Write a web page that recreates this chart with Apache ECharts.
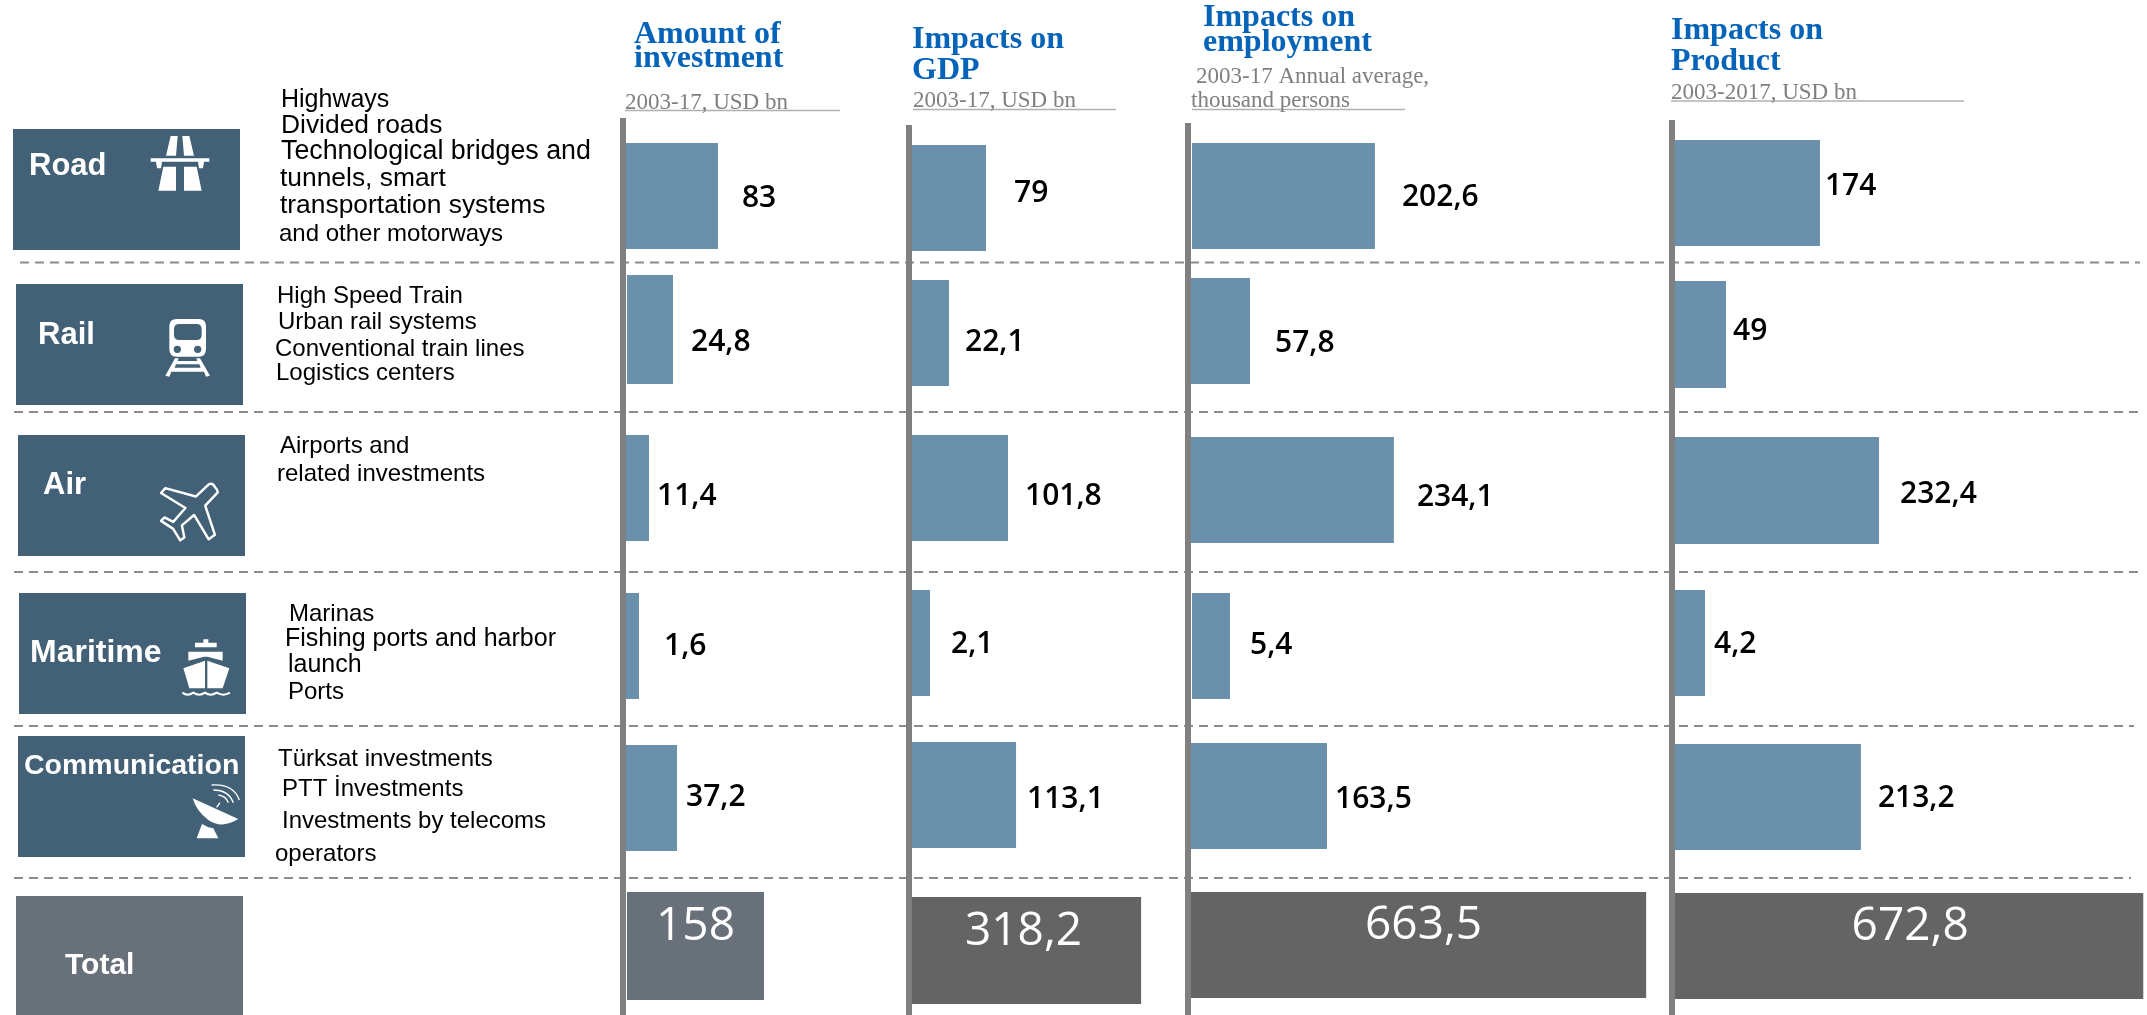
<!DOCTYPE html>
<html>
<head>
<meta charset="utf-8">
<title>Transport and communication investment impacts</title>
<style>html,body{margin:0;padding:0;background:#fff}#chart{width:2147px;height:1015px}</style>
<script src="https://cdn.jsdelivr.net/npm/echarts@6/dist/echarts.min.js"></script>
</head>
<body>
<div id="chart"></div>
<script>
// ---------- data ----------
const categories = ['Road', 'Rail', 'Air', 'Maritime', 'Communication', 'Total'];
const investment = [83, 24.8, 11.4, 1.6, 37.2, 158];
const gdp = [79, 22.1, 101.8, 2.1, 113.1, 318.2];
const employment = [202.6, 57.8, 234.1, 5.4, 163.5, 663.5];
const product = [174, 49, 232.4, 4.2, 213.2, 672.8];

const panelSeries = [investment, gdp, employment, product];

const descriptions = [
  ['Highways', 'Divided roads', 'Technological bridges and', 'tunnels, smart', 'transportation systems', 'and other motorways'],
  ['High Speed Train', 'Urban rail systems', 'Conventional train lines', 'Logistics centers'],
  ['Airports and', 'related investments'],
  ['Marinas', 'Fishing ports and harbor', 'launch', 'Ports'],
  ['Türksat investments', 'PTT İnvestments', 'Investments by telecoms', 'operators']
];

// ---------- scales ----------
// The source graphic is not drawn to one common scale: a bar's length is not
// proportional to its printed value, even inside one panel. Each cell therefore
// has its own value axis; these are the pixels per unit measured for each cell.
const rowScales = [
  [1.108, 1.855, 2.105, 8.125, 1.371, 0.867],
  [0.937, 1.674, 0.943, 8.571, 0.920, 0.720],
  [0.903, 1.038, 0.871, 7.037, 0.838, 0.686],
  [0.833, 1.041, 0.878, 7.143, 0.886, 0.696]
];

// ---------- layout ----------
const cellLeft = [
  [626, 627, 625, 626, 626, 627],
  [912, 912, 912, 912, 912, 912],
  [1192, 1190, 1190, 1192, 1190, 1191],
  [1675, 1675, 1675, 1675, 1672, 1675]
];
const cellTop = [
  [143, 275, 435, 593, 745, 892],
  [145, 280, 435, 590, 742, 897],
  [143, 278, 437, 593, 743, 892],
  [140, 281, 437, 590, 744, 893]
];
const cellHeight = [
  [106, 109, 106, 106, 106, 108],
  [106, 106, 106, 106, 106, 107],
  [106, 106, 106, 106, 106, 106],
  [106, 107, 107, 106, 106, 106]
];
const labelGap = [
  [24, 18, 8, 25, 9],
  [28, 16, 17, 21, 11],
  [27, 25, 23, 20, 8],
  [5, 7, 21, 9, 17]
];
const labelDy = [
  [2, 13, 8, 0, -1],
  [-5, 9, 8, 1, 4],
  [1, 12, 7, -1, 3],
  [-7, -3, 4, 1, 1]
];
const totalDx = [0, -3, 5, 1];
const totalColors = ['#687079', '#646464', '#646464', '#646464'];
const BAR = '#6a90ab', BOX = '#426076', BOX_TOTAL = '#687079', AXIS = '#808080', SEP = '#8c8c8c';
const BLUE = '#0563b8', SUB = '#7f7f7f';

const grids = [], xAxes = [], yAxes = [], series = [];
panelSeries.forEach((vals, p) => {
  vals.forEach((v, r) => {
    const i = grids.length, isTotal = r === 5;
    // grid stays inside the canvas, otherwise ECharts narrows it and the scale shifts
    const w = Math.min(480, 2147 - cellLeft[p][r]);
    grids.push({ left: cellLeft[p][r], top: cellTop[p][r], width: w, height: cellHeight[p][r], containLabel: false });
    xAxes.push({ type: 'value', gridIndex: i, min: 0, max: w / rowScales[p][r], show: false });
    yAxes.push({ type: 'category', gridIndex: i, data: [categories[r]], show: false });
    series.push({
      type: 'bar', name: categories[r], xAxisIndex: i, yAxisIndex: i, data: [v],
      barWidth: '100%', silent: true, z: 3,
      itemStyle: { color: isTotal ? totalColors[p] : BAR },
      label: {
        show: true,
        formatter: o => String(o.value).replace('.', ','),
        fontFamily: '"Open Sans"',
        color: isTotal ? '#fff' : '#000',
        fontSize: isTotal ? 46 : 30,
        fontWeight: isTotal ? 400 : 600,
        position: isTotal ? 'inside' : 'right',
        distance: isTotal ? 0 : labelGap[p][r],
        offset: isTotal ? [totalDx[p], -19] : [0, labelDy[p][r]]
      }
    });
  });
});

// ---------- furniture ----------
const g = [];
const rect = (x, y, w, h, fill, z) => g.push({ type: 'rect', silent: true, z: z || 1, shape: { x, y, width: w, height: h }, style: { fill } });
const line = (x1, y1, x2, y2, stroke, lineWidth, dash, z) => g.push({ type: 'line', silent: true, z: z || 1, shape: { x1, y1, x2, y2 }, style: { stroke, lineWidth, lineDash: dash || null } });
const text = (t, x, y, font, fill) => g.push({ type: 'text', silent: true, z: 5, x, y, style: { text: t, font, fill, textAlign: 'left', textVerticalAlign: 'middle', textBaseline: 'middle' } });
let iconId = 0;
const icon = (d, ox, oy, k, st) => {
  const name = 'glyph' + (iconId++);
  echarts.graphic.registerShape(name, echarts.graphic.extendPath(d, {}));
  g.push({ type: name, silent: true, z: 6, x: ox, y: oy, scaleX: k, scaleY: k, style: st || { fill: '#fff' } });
};

// category boxes
const boxes = [[13, 129, 227, 121], [16, 284, 227, 121], [18, 435, 227, 121], [19, 593, 227, 121], [18, 736, 227, 121], [16, 896, 227, 119]];
boxes.forEach((b, i) => rect(b[0], b[1], b[2], b[3], i === 5 ? BOX_TOTAL : BOX));
const catPos = [[29, 166, 31], [38, 335, 31], [43, 485, 31], [30, 653, 32], [24, 766, 28.5], [65, 966, 30]];
catPos.forEach((c, i) => text(categories[i], c[0], c[1], `bold ${c[2]}px "Liberation Sans"`, '#fff'));

// description lines: x, y, size
const descPos = [
  [[281, 100, 25], [281, 126, 26.4], [281, 152, 26.8], [280, 179, 26.4], [280, 206, 26.4], [279, 234, 24]],
  [[277, 296, 24], [278, 322, 24], [275, 349, 24], [276, 373, 24]],
  [[280, 446, 24], [277, 474, 24]],
  [[289, 614, 24], [285, 639, 25], [288, 665, 25], [288, 692, 24]],
  [[278, 759, 24], [282, 789, 24], [282, 821, 24], [275, 854, 24]]
];
descriptions.forEach((lines, r) => lines.forEach((t, k) => {
  const q = descPos[r][k];
  text(t, q[0], q[1], `${q[2]}px "Liberation Sans"`, '#000');
}));

// separators
[[20, 262.5, 2140], [14, 412, 2140], [14, 572, 2140], [14, 726, 2134], [14, 878, 2131]].forEach(s => line(s[0], s[1], s[2], s[1], SEP, 2, [9, 6]));

// panel axis rules
[[623, 118], [909, 125], [1188, 123], [1672, 120]].forEach(a => line(a[0], a[1], a[0], 1015, AXIS, 6, null, 7));

// headers
const headFont = 'bold 32px "Liberation Serif"', subFont = '23px "Liberation Serif"';
text('Amount of', 634, 35, headFont, BLUE);
text('investment', 634, 59, headFont, BLUE);
text('2003-17, USD bn', 625, 103, subFont, SUB);
line(625, 110.5, 840, 110.5, '#b0b0b0', 1.5);

text('Impacts on', 912, 40, headFont, BLUE);
text('GDP', 912, 71, headFont, BLUE);
text('2003-17, USD bn', 913, 101, subFont, SUB);
line(913, 109.5, 1116, 109.5, '#b0b0b0', 1.5);

text('Impacts on', 1203, 18, headFont, BLUE);
text('employment', 1203, 43, headFont, BLUE);
text('2003-17 Annual average,', 1196, 77, subFont, SUB);
text('thousand persons', 1191, 101, subFont, SUB);
line(1192, 109.5, 1405, 109.5, '#b0b0b0', 1.5);

text('Impacts on', 1671, 31, headFont, BLUE);
text('Product', 1671, 62, headFont, BLUE);
text('2003-2017, USD bn', 1671, 93, subFont, SUB);
line(1671, 101, 1964, 101, '#b0b0b0', 1.5);

// icons (paths in crop pixels; origin and factor place them on the boxes)
icon('M122 33L143 33L138 92L108 92ZM157 33L178 33L192 92L162 92ZM62 100L238 100L238 110L222 110L219 130L207 130L204 110L96 110L93 130L81 130L78 110L62 110ZM100 125L138 125L138 197L85 197ZM162 125L200 125L215 197L162 197Z',
  130, 125, 1 / 3);
icon('M140 582L206 582Q228 582 228 604L228 672Q228 695 206 695L140 695Q118 695 118 672L118 604Q118 582 140 582Z' +
     'M148 597Q132 597 132 613L132 630Q132 645 148 645L199 645Q215 645 215 630L215 613Q215 597 199 597Z' +
     'M131 673A11 11 0 0 0 153 673A11 11 0 0 0 131 673Z' +
     'M192 673A11 11 0 0 0 214 673A11 11 0 0 0 192 673Z' +
     'M135 700L146 700L143 708L202 708L199 700L210 700L240 752L228 755L222 740L124 740L118 755L106 752Z' +
     'M138 718L134 728L212 728L208 718Z',
  130, 125, 1 / 3);
icon('M250 55Q244 42 232 47L195 82L107 58L95 72L165 115L130 155L105 142L95 152L130 175L150 208L162 200L155 165L190 135L232 205L250 192L222 108L258 70Q258 62 250 55Z',
  128, 468, 1 / 2.875, { fill: 'none', stroke: '#fff', lineWidth: 7, lineJoin: 'round' });
icon('M160 58L175 58L175 68L200 68L200 82L135 82L135 68L160 68ZM115 95L218 95L218 122L172 110L162 110L115 122ZM100 145L165 122L165 205L118 205ZM172 122L238 145L218 205L172 205Z',
  150, 620, 1 / 3);
icon('M97 218Q113 230 130 218Q147 230 165 218Q182 230 200 218Q220 230 240 218',
  150, 620, 1 / 3, { fill: 'none', stroke: '#fff', lineWidth: 6 });
icon('M128 535L265 597Q215 628 175 600Q140 575 128 535ZM156 612L175 622L190 625L205 655L140 655Z',
  150, 620, 1 / 3);
icon('M200 562L210 548M185 495Q250 490 268 540M190 510Q235 510 250 548M205 525Q228 528 235 548',
  150, 620, 1 / 3, { fill: 'none', stroke: '#fff', lineWidth: 4 });

const chart = echarts.init(document.getElementById('chart'), null, { renderer: 'canvas' });
chart.setOption({
  animation: false,
  backgroundColor: '#fff',
  grid: grids,
  xAxis: xAxes,
  yAxis: yAxes,
  series: series,
  graphic: { elements: g }
});
</script>
</body>
</html>
